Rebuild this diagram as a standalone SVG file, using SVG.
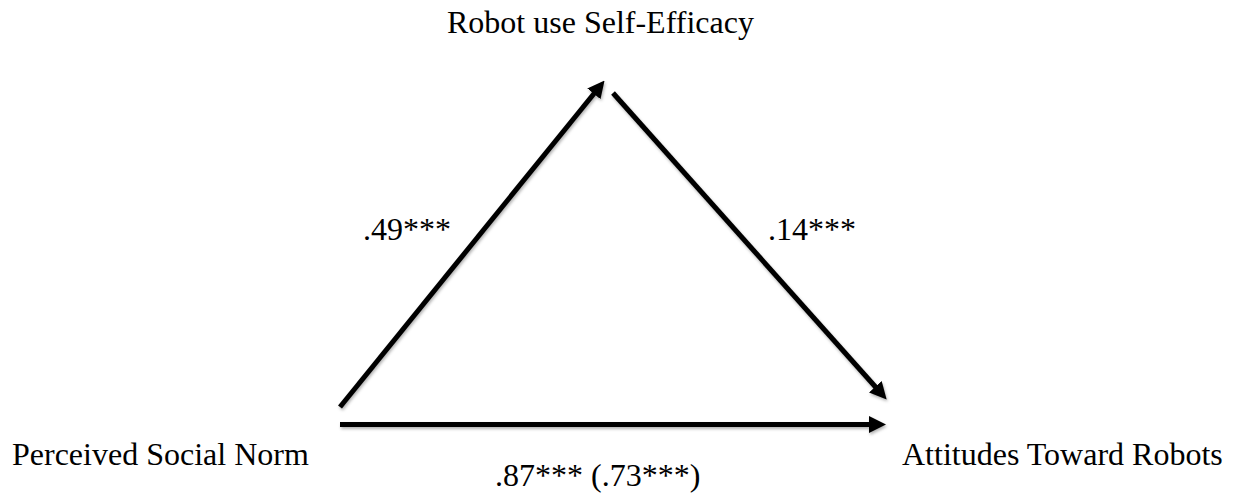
<svg xmlns="http://www.w3.org/2000/svg" width="1234" height="493" viewBox="0 0 1234 493">
  <style>
    .lbl { font-family: "Liberation Serif", "Times New Roman", serif; font-size: 32px; fill: #000; }
    .edge { stroke: #000; stroke-width: 5; fill: none; marker-end: url(#head); }
  </style>
  <defs>
    <marker id="head" viewBox="0 0 17 17" markerUnits="userSpaceOnUse" markerWidth="17" markerHeight="17" refX="1" refY="8.5" orient="auto">
      <path d="M0,0 L17,8.5 L0,17 z" fill="#000"/>
    </marker>
    <filter id="sh" x="-10%" y="-10%" width="120%" height="130%">
      <feDropShadow dx="1" dy="2" stdDeviation="1.8" flood-color="#000" flood-opacity="0.3"/>
    </filter>
  </defs>
  <rect width="1234" height="493" fill="#fff"/>
  <g id="connectors" filter="url(#sh)">
    <line class="edge" x1="340" y1="407" x2="594.5" y2="93"/>
    <line class="edge" x1="613" y1="93" x2="876" y2="387.5"/>
    <line class="edge" x1="340" y1="424.5" x2="870" y2="424.5"/>
  </g>
  <g id="node-selfefficacy">
    <text class="lbl" x="447" y="33">Robot use Self-Efficacy</text>
  </g>
  <g id="node-socialnorm">
    <text class="lbl" x="12" y="465">Perceived Social Norm</text>
  </g>
  <g id="node-attitudes">
    <text class="lbl" x="902" y="465">Attitudes Toward Robots</text>
  </g>
  <g id="edge-labels">
    <text class="lbl" x="363" y="240">.49***</text>
    <text class="lbl" x="768" y="240">.14***</text>
    <text class="lbl" x="495" y="486">.87*** (.73***)</text>
  </g>
</svg>
